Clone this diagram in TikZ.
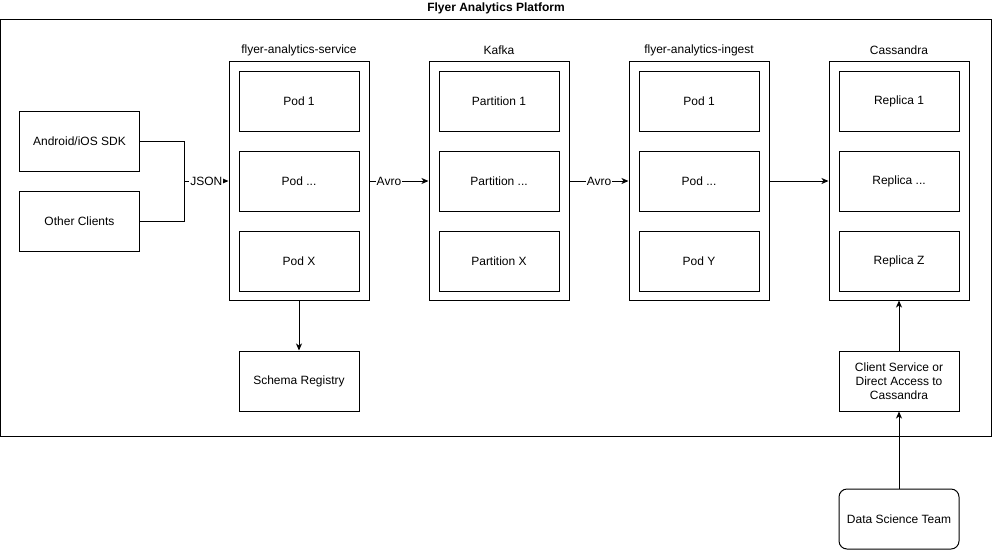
\documentclass[tikz,border=0pt]{standalone}
\usepackage{fontspec}
\setmainfont{Liberation Sans}
\usetikzlibrary{arrows.meta}
\begin{document}
\begin{tikzpicture}[x=1pt,y=-1pt,
  every node/.style={font=\fontsize{12}{14}\selectfont},
  box/.style={draw,line width=1pt,minimum width=120pt,minimum height=60pt,inner sep=0pt,align=center},
  cont/.style={draw,line width=1pt,minimum width=140pt,minimum height=239pt,inner sep=0pt},
  lbl/.style={inner sep=1pt,fill=white},
  conn/.style={line width=1pt,-{Stealth[length=7pt,width=6pt,inset=2pt]}}]
\useasboundingbox (0,0) rectangle (992,550);
% outer platform
\node[draw,line width=1pt,minimum width=991pt,minimum height=417pt,inner sep=0pt] (plat) at (495.5,227.5) {};
\node[font=\fontsize{12}{14}\selectfont\bfseries] (ptitle) at (496,8) {Flyer Analytics Platform};
% clients
\node[box] (sdk) at (79.5,141) {Android/iOS SDK};
\node[box] (oth) at (79.5,221) {Other Clients};
% containers
\node[cont] (svc) at (299,180.5) {};
\node[cont] (kaf) at (499,180.5) {};
\node[cont] (ing) at (699,180.5) {};
\node[cont] (cas) at (899,180.5) {};
\node (svcl) at (299,50) {flyer-analytics-service};
\node (kafl) at (499,50) {Kafka};
\node (ingl) at (699,50) {flyer-analytics-ingest};
\node (casl) at (899,50) {Cassandra};
% inner boxes
\node[box] (s1) at (299,101) {Pod 1};
\node[box] (s2) at (299,181) {Pod ...};
\node[box] (s3) at (299,261) {Pod X};
\node[box] (k1) at (499,101) {Partition 1};
\node[box] (k2) at (499,181) {Partition ...};
\node[box] (k3) at (499,261) {Partition X};
\node[box] (i1) at (699,101) {Pod 1};
\node[box] (i2) at (699,181) {Pod ...};
\node[box] (i3) at (699,261) {Pod Y};
\node[box] (c1) at (899,101) {Replica 1};
\node[box] (c2) at (899,181) {Replica ...};
\node[box] (c3) at (899,261) {Replica Z};
% lower boxes
\node[box] (reg) at (299,381) {Schema Registry};
\node[box] (cli) at (899,381) {Client Service or\\Direct Access to\\Cassandra};
\node[box,rounded corners=8pt] (dst) at (899,519) {Data Science Team};
% connectors
\coordinate (j) at (184,181);
\draw[line width=1pt] (sdk.east) -| (j);
\draw[line width=1pt] (oth.east) -| (j);
\draw[conn] (j) -- node[lbl,pos=0.5] {JSON} (svc.west |- j);
\draw[conn] (svc.east |- s2) -- node[lbl,pos=0.33] {Avro} (kaf.west |- s2);
\draw[conn] (kaf.east |- k2) -- node[lbl,pos=0.5] {Avro} (ing.west |- k2);
\draw[conn] (ing.east |- i2) -- (cas.west |- i2);
\draw[conn] (svc.south) -- (reg.north);
\draw[conn] (cli.north) -- (cas.south);
\draw[conn] (dst.north) -- (cli.south);
\end{tikzpicture}
\end{document}
